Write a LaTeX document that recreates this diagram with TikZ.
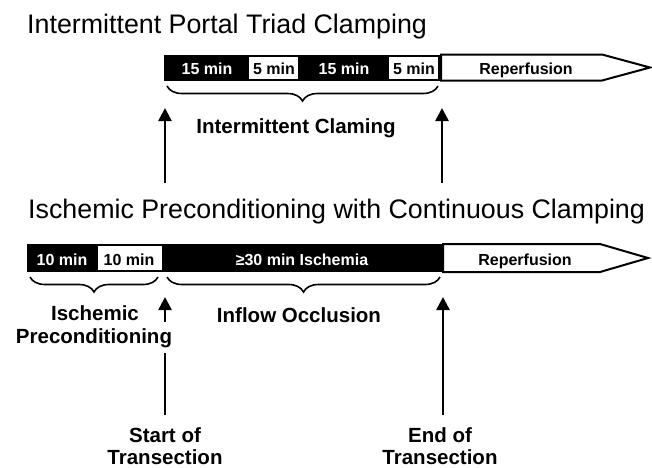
\documentclass[tikz,border=0pt]{standalone}
\usepackage{fontspec}
\setmainfont{Liberation Sans}
\usetikzlibrary{arrows.meta,decorations.pathreplacing}

\begin{document}
\begin{tikzpicture}[x=1pt,y=-1pt,
  title/.style={anchor=base west, inner sep=0pt, font=\fontsize{26.8}{30}\selectfont},
  seglabel/.style={anchor=base, inner sep=0pt, font=\fontsize{16}{19}\selectfont\bfseries},
  onblack/.style={seglabel, text=white},
  bracelabel/.style={anchor=base, inner sep=0pt, font=\fontsize{20.5}{24}\selectfont\bfseries},
  bar/.style={line width=2pt},
  curly/.style={line width=1.6pt, decorate, decoration={brace, mirror, amplitude=15pt}},
  marker/.style={line width=2.6pt, -{Triangle[length=13pt, width=13pt]}}]
\useasboundingbox (0,0) rectangle (652,467);

% Titles
\node[title] (titleA) at (27,33) {Intermittent Portal Triad Clamping};
\node[title] (titleB) at (28,218) {Ischemic Preconditioning with Continuous Clamping};

% Intermittent clamping: the bar
\fill (164,54.5) rectangle (441,80.5);
\fill[white] (249,56.5) rectangle (298,78.5);
\fill[white] (389,56.5) rectangle (438,78.5);
\draw[bar, fill=white] (441,54.5) -- (602,54.5) -- (650,67.5) -- (602,80.5) -- (441,80.5) -- cycle;
\node[onblack] (clampA) at (207,74) {15 min};
\node[seglabel] (restA) at (274,74) {5 min};
\node[onblack] (clampB) at (344,74) {15 min};
\node[seglabel] (restB) at (414,74) {5 min};
\node[seglabel] (reperfA) at (526,74) {Reperfusion};

% Intermittent clamping: brace and markers
\draw[curly] (167,86) -- (438,86);
\node[bracelabel] (intermittent) at (296,133) {Intermittent Claming};
\coordinate (startA) at (165,183);
\coordinate (startAtip) at (165,108);
\coordinate (endA) at (442,183);
\coordinate (endAtip) at (442,108);
\draw[marker] (startA) -- (startAtip);
\draw[marker] (endA) -- (endAtip);

% Preconditioning and continuous clamping: the bar
\fill (27,244) rectangle (443,272);
\fill[white] (98,246) rectangle (162,270);
\draw[bar, fill=white] (443,244) -- (600,244) -- (648,258) -- (600,272) -- (443,272) -- cycle;
\node[onblack] (precondA) at (62,265) {10 min};
\node[seglabel] (precondB) at (129,265) {10 min};
\node[onblack] (ischemia) at (302,265) {≥30 min Ischemia};
\node[seglabel] (reperfB) at (525,265) {Reperfusion};

% Preconditioning and continuous clamping: braces and markers
\draw[curly] (30,277) -- (158,277);
\draw[curly] (167,277) -- (440,277);
\coordinate (startB) at (165,415);
\coordinate (startBtip) at (165,297);
\coordinate (endB) at (443,415);
\coordinate (endBtip) at (443,297);
\draw[marker] (startB) -- (startBtip);
\draw[marker] (endB) -- (endBtip);
\node[bracelabel] (ischemic) at (95,320) {Ischemic};
\node[bracelabel, fill=white, inner ysep=6pt] (precond) at (94,343) {Preconditioning};
\node[bracelabel] (occlusion) at (299,322) {Inflow Occlusion};

% Transection
\node[bracelabel] (startTop) at (165,442) {Start of};
\node[bracelabel] (startBot) at (165,464) {Transection};
\node[bracelabel] (endTop) at (440,442) {End of};
\node[bracelabel] (endBot) at (440,464) {Transection};
\end{tikzpicture}
\end{document}
